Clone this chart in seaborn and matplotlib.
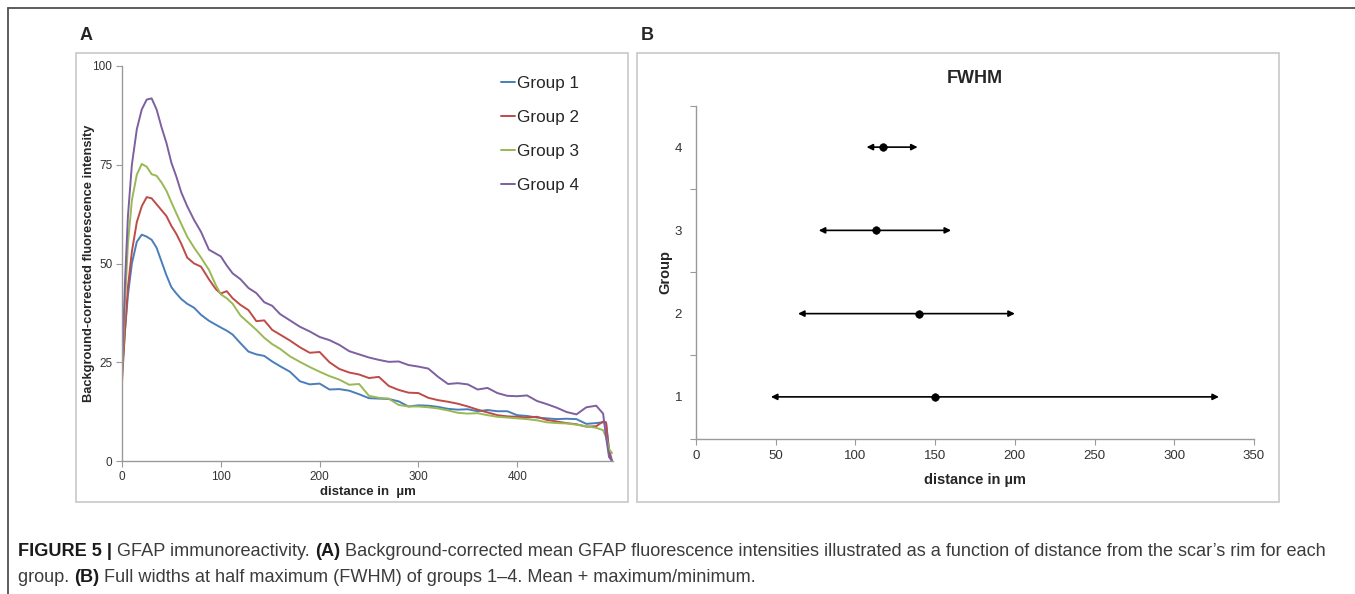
import numpy as np
import pandas as pd
import matplotlib
matplotlib.use("Agg")
import matplotlib.pyplot as plt
from matplotlib.patches import Rectangle
from matplotlib.lines import Line2D
import seaborn as sns

# --- panel A: mean GFAP intensity profiles ---
distance = [0, 3, 6, 10, 15, 20, 25, 30, 35, 40, 45, 50, 55, 60, 66, 73, 80, 88, 95, 100,
            106, 112, 120, 128, 136, 144, 152, 160, 170, 180, 190, 200, 210, 220, 230, 240,
            250, 260, 270, 280, 290, 300, 310, 320, 330, 340, 350, 360, 370, 380, 390, 400,
            410, 420, 430, 440, 450, 460, 470, 480, 487, 490, 493, 496]
group1 = [22, 33, 42, 50, 55.5, 57.3, 56.8, 56, 54, 50.5, 47, 44, 42.4, 41, 39.8, 38.8, 37, 35.5, 34.5, 33.8,
          33, 32, 29.8, 27.7, 27, 26.6, 25.2, 24, 22.6, 20.2, 19.4, 19.6, 18.1, 18.2, 17.8, 16.9,
          15.9, 15.8, 15.7, 15.1, 13.8, 14.1, 14.0, 13.7, 13.2, 13.0, 13.1, 12.6, 12.9, 12.6, 12.6, 11.6,
          11.4, 11.0, 10.8, 10.6, 10.7, 10.6, 9.4, 9.6, 9.8, 9.5, 3, 0]
group2 = [20, 33, 44, 53, 60.5, 64.5, 66.8, 66.5, 65, 63.5, 62, 59.5, 57.5, 55, 51.5, 50, 49.2, 46, 43.5, 42.4,
          43, 41.2, 39.5, 38.2, 35.4, 35.6, 33.2, 32, 30.5, 28.8, 27.4, 27.6, 25, 23.3, 22.4, 21.9,
          21, 21.3, 19, 18, 17.3, 17.2, 16, 15.4, 15, 14.5, 13.8, 13, 12.3, 11.6, 11.3, 11.2,
          11.0, 11.2, 10.4, 10.0, 9.6, 9.3, 8.7, 8.8, 10, 9.8, 2, 0]
group3 = [21.5, 40, 55, 66, 72.5, 75.2, 74.5, 72.6, 72.2, 70.5, 68.4, 65.5, 62.7, 60, 56.8, 54, 51.5, 48.4, 44.5, 42.2,
          41.2, 39.8, 36.8, 35, 33.2, 31.2, 29.6, 28.4, 26.5, 25.1, 23.8, 22.6, 21.5, 20.6, 19.3, 19.5,
          16.5, 16, 15.8, 14.2, 13.8, 13.8, 13.6, 13.3, 12.8, 12.2, 12.0, 12.1, 11.6, 11.2, 11.0, 10.8,
          10.6, 10.3, 9.8, 9.6, 9.5, 9.2, 8.8, 8.4, 7.8, 6, 3, 2]
group4 = [23, 45, 62, 75, 84, 89, 91.5, 91.8, 89, 84.5, 80.5, 75.5, 72, 68, 64.5, 61, 58, 53.5, 52.5, 51.8,
          49.5, 47.5, 46, 43.8, 42.5, 40.2, 39.3, 37.2, 35.6, 34, 32.8, 31.4, 30.6, 29.4, 27.8, 27,
          26.2, 25.6, 25.1, 25.2, 24.3, 23.9, 23.4, 21.3, 19.5, 19.7, 19.4, 18.1, 18.5, 17.2, 16.5, 16.4,
          16.6, 15.2, 14.4, 13.5, 12.4, 11.8, 13.6, 14, 12, 6, 1, 0]
group_names = ["Group 1", "Group 2", "Group 3", "Group 4"]
line_colors = ["#4a7ebb", "#be4b48", "#98b954", "#7d60a0"]

# --- panel B: FWHM per group (mean, min, max) ---
fwhm_group = [1, 2, 3, 4]
fwhm_mean = [150, 140, 113, 117]
fwhm_min = [47, 64, 77, 107]
fwhm_max = [328, 200, 160, 139]

sns.set_theme(style="white")
plt.rcParams["font.family"] = ["Liberation Sans", "DejaVu Sans"]

W, H = 1355, 594
fig = plt.figure(figsize=(W / 100, H / 100), dpi=100)


def fx(px):
    return px / W


def fy(py):
    return 1 - py / H


# outer frame (top + left) and panel boxes
fig.add_artist(Line2D([fx(8), 1], [fy(8), fy(8)], color="#505050", lw=1.3))
fig.add_artist(Line2D([fx(8), fx(8)], [fy(8), 0], color="#505050", lw=1.3))
for x0, x1 in [(76, 628), (637, 1279)]:
    fig.add_artist(Rectangle((fx(x0), fy(502)), fx(x1 - x0), (502 - 53) / H,
                             fill=False, edgecolor="#c8c8c8", lw=1.2))
fig.text(fx(80), fy(35), "A", fontsize=13, fontweight="bold", va="center", ha="left")
fig.text(fx(641), fy(35), "B", fontsize=13, fontweight="bold", va="center", ha="left")

axis_grey = "#9a9a9a"
tick_col = "#333333"

# ---------------- panel A ----------------
df = pd.DataFrame({
    "distance": distance * 4,
    "intensity": group1 + group2 + group3 + group4,
    "group": [g for g in group_names for _ in distance],
})
axA = fig.add_axes([fx(122), fy(461), fx(613 - 122), (461 - 66) / H])
sns.lineplot(data=df, x="distance", y="intensity", hue="group", palette=line_colors,
             linewidth=1.4, ax=axA)
axA.set_xlim(0, 497)
axA.set_ylim(0, 100)
axA.set_xticks([0, 100, 200, 300, 400])
axA.set_yticks([0, 25, 50, 75, 100])
for s in ["top", "right"]:
    axA.spines[s].set_visible(False)
for s in ["left", "bottom"]:
    axA.spines[s].set_color(axis_grey)
    axA.spines[s].set_linewidth(1.0)
axA.tick_params(axis="both", length=4, width=0.8, color=axis_grey, labelsize=8.5,
                labelcolor=tick_col, direction="out", pad=3)
axA.tick_params(axis="both", which="both", bottom=True, left=True)
axA.set_xlabel("distance in  \u00b5m", fontsize=9.5, fontweight="bold", labelpad=2)
axA.set_ylabel("Background-corrected fluorescence intensity", fontsize=9.3, fontweight="bold")
axA.yaxis.set_label_coords((95 - 122) / 491, 0.5)
handles, labels = axA.get_legend_handles_labels()
axA.legend(handles, labels, loc="upper left", bbox_to_anchor=(0.772, 0.975), frameon=False,
           fontsize=12.3, handlelength=0.8, handletextpad=0.15, labelspacing=1.12,
           borderpad=0, borderaxespad=0)

# ---------------- panel B ----------------
axB = fig.add_axes([fx(696), fy(438.5), fx(1254 - 696), (438.5 - 105.5) / H])
for g, lo, hi in zip(fwhm_group, fwhm_min, fwhm_max):
    axB.annotate("", xy=(hi, g), xytext=(lo, g),
                 arrowprops=dict(arrowstyle="<|-|>", color="black", lw=1.2,
                                 mutation_scale=9, shrinkA=0, shrinkB=0))
sns.scatterplot(x=fwhm_mean, y=fwhm_group, color="black", s=30, edgecolor="black",
                zorder=5, ax=axB)
axB.set_xlim(0, 350)
axB.set_ylim(0.5, 4.5)
axB.set_xticks(range(0, 351, 50))
axB.set_yticks(fwhm_group)
axB.set_yticks([0.5, 1.5, 2.5, 3.5, 4.5], minor=True)
for s in ["top", "right"]:
    axB.spines[s].set_visible(False)
for s in ["left", "bottom"]:
    axB.spines[s].set_color(axis_grey)
    axB.spines[s].set_linewidth(1.0)
axB.tick_params(axis="x", length=4, width=0.8, color=axis_grey, labelsize=9.5,
                labelcolor=tick_col, direction="out", bottom=True, pad=4)
axB.tick_params(axis="y", which="major", length=0, labelsize=9.5, labelcolor=tick_col,
                left=True, pad=10)
axB.tick_params(axis="y", which="minor", length=4, width=0.8, color=axis_grey,
                direction="out", left=True)
axB.set_xlabel("distance in \u00b5m", fontsize=10.5, fontweight="bold", labelpad=8)
axB.set_ylabel("Group", fontsize=10.5, fontweight="bold")
axB.yaxis.set_label_coords((672 - 696) / 558, 0.5)
axB.set_title("FWHM", fontsize=13, fontweight="bold", pad=16)

# ---------------- caption ----------------
renderer = fig.canvas.get_renderer()


def rich_line(x_px, y_px, parts, size):
    x = fx(x_px)
    for txt, bold in parts:
        t = fig.text(x, fy(y_px), txt, fontsize=size, va="baseline", ha="left",
                     fontweight="bold" if bold else "normal",
                     color="#1a1a1a" if bold else "#3c3c3c")
        bb = t.get_window_extent(renderer)
        x = bb.x1 / W


cap_size = 13.1
rich_line(18, 556, [
    ("FIGURE 5 |", True),
    (" GFAP immunoreactivity. ", False),
    ("(A)", True),
    (" Background-corrected mean GFAP fluorescence intensities illustrated as a function of "
     "distance from the scar\u2019s rim for each", False),
], cap_size)
rich_line(18, 582, [
    ("group. ", False),
    ("(B)", True),
    (" Full widths at half maximum (FWHM) of groups 1\u20134. Mean + maximum/minimum.", False),
], cap_size)

fig.savefig("out.png", dpi=100)
